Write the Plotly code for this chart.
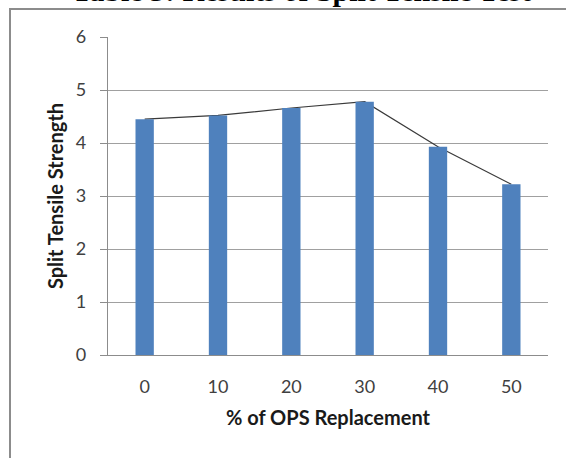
import plotly.graph_objects as go

categories = ["0", "10", "20", "30", "40", "50"]
strength = [4.45, 4.52, 4.66, 4.78, 3.93, 3.22]
y_ticks = [0, 1, 2, 3, 4, 5, 6]

W, H = 566, 458
L, R, T, B = 108, 18, 37, 103
PH = H - T - B

fig = go.Figure()
# connecting line drawn on base axes (below the bars)
fig.add_trace(go.Scatter(x=categories, y=strength, mode="lines",
                         line=dict(color="#3a3a3a", width=1.2),
                         hoverinfo="skip", showlegend=False, xaxis="x", yaxis="y"))
# bars on overlaying axes so they sit above the line
fig.add_trace(go.Bar(x=categories, y=strength, marker=dict(color="#4f81bd", line=dict(width=0)),
                     width=0.25, showlegend=False, xaxis="x2", yaxis="y2"))

fig.update_layout(
    width=W, height=H,
    margin=dict(l=L, r=R, t=T, b=B, pad=0),
    paper_bgcolor="white", plot_bgcolor="white",
    font=dict(family="Lato, Carlito, Calibri, sans-serif", color="#404040"),
    xaxis=dict(type="category", categoryarray=categories, range=[-0.5, 5.5],
               showgrid=False, showline=True, linecolor="#8c8c8c", linewidth=1.3,
               ticks="", tickfont=dict(size=18), ticklabelstandoff=15,
               title=dict(text="<b>% of OPS Replacement</b>", font=dict(size=20, color="#1a1a1a"), standoff=15)),
    yaxis=dict(range=[0, 6], tickvals=y_ticks, showgrid=True, gridcolor="#a0a0a0", gridwidth=1.3,
               showline=True, linecolor="#8c8c8c", linewidth=1.3, zeroline=False,
               ticks="outside", ticklen=7, tickcolor="#8c8c8c", tickwidth=1.3,
               tickfont=dict(size=18), ticklabelstandoff=10,
               title=dict(text="<b>Split Tensile Strength</b>", font=dict(size=20, color="#1a1a1a"), standoff=6)),
    xaxis2=dict(type="category", categoryarray=categories, range=[-0.5, 5.5],
                overlaying="x", visible=False),
    yaxis2=dict(range=[0, 6], overlaying="y", visible=False),
)

# outer frame (partially visible border)
fig.add_shape(type="rect", xref="paper", yref="paper",
              x0=(10 - L) / (W - L - R), x1=1.2,
              y0=-0.5, y1=1 + (T - 9) / PH,
              line=dict(color="#8c8c8c", width=2), fillcolor="rgba(0,0,0,0)", layer="below")

# cut-off caption at the top
fig.add_annotation(text="<b>Table 3: Results of Split Tensile Test</b>", xref="paper", yref="paper",
                   x=(301 - L) / (W - L - R), y=1 + (T - 8.8) / PH,
                   xanchor="center", yanchor="bottom", showarrow=False,
                   font=dict(family="Liberation Serif, serif", size=30, color="black"))

fig.write_html("out.html", config={"displayModeBar": False},
               post_script="document.body.style.margin='0';document.body.style.overflow='hidden';")
